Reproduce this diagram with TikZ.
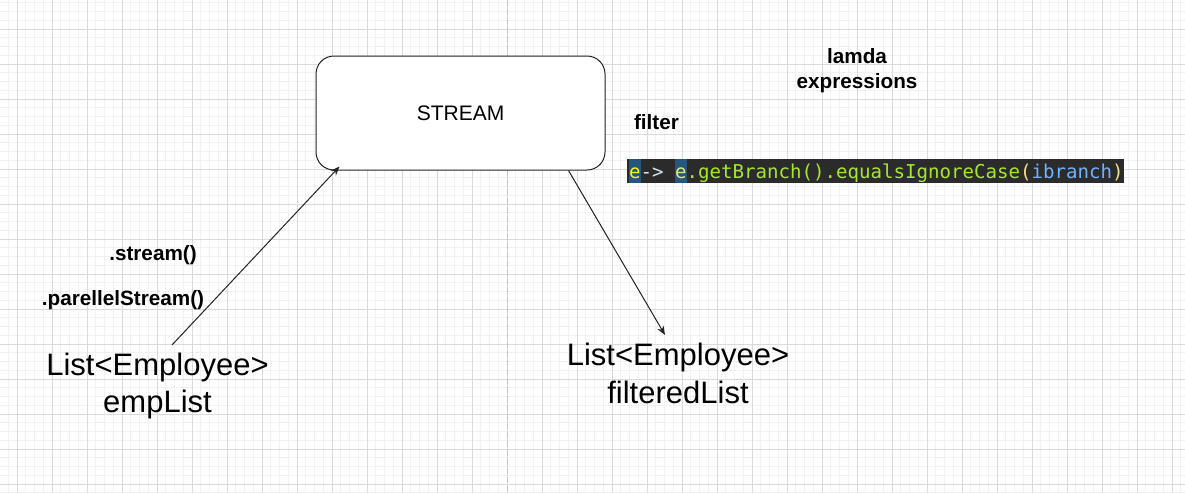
\documentclass[tikz,border=0pt]{standalone}
\usepackage{fontspec}
\setmainfont{Liberation Sans}
\newfontfamily\codefont{DejaVu Sans Mono}
\usetikzlibrary{arrows.meta}
\definecolor{gminor}{HTML}{F1F1F1}
\definecolor{gmajor}{HTML}{DADADA}
\definecolor{gdash}{HTML}{C4C4C4}
\definecolor{codebg}{HTML}{2B2B2B}
\definecolor{codehl}{HTML}{24567E}
\definecolor{cyel}{HTML}{FFEF1A}
\definecolor{cwht}{HTML}{D8E4F0}
\definecolor{cfun}{HTML}{E4E090}
\definecolor{cgrn}{HTML}{A6E62E}
\definecolor{cpar}{HTML}{F4E080}
\definecolor{cblu}{HTML}{6FB2FF}
\definecolor{linec}{HTML}{222222}
\newcommand{\hlbox}[2]{{\setlength{\fboxsep}{0pt}\colorbox{codehl}{\rule[-5pt]{0pt}{24pt}\textcolor{#1}{#2}}}}
\begin{document}
\begin{tikzpicture}[x=1pt,y=-1pt,
  minorline/.style={draw=gminor,line width=1pt},
  majorline/.style={draw=gmajor,line width=1pt},
  divider/.style={draw=gdash,line width=1pt,dash pattern=on 6pt off 3pt},
  streambox/.style={draw=linec,fill=white,line width=1pt,rounded corners=18pt,
    minimum width=289pt,minimum height=114pt,inner sep=0pt,
    font=\fontsize{21}{25}\selectfont},
  boldlabel/.style={inner sep=0pt,anchor=base,align=center,
    font=\bfseries\fontsize{20.7}{25}\selectfont},
  biglabel/.style={inner sep=0pt,anchor=base,align=center,
    font=\fontsize{31}{37.5}\selectfont},
  codeline/.style={fill=codebg,inner sep=0pt,anchor=base west,
    font=\codefont\fontsize{19.1}{24}\selectfont},
  arr/.style={draw=linec,line width=1pt,-{Stealth[length=9pt,width=7pt]}}
]
\useasboundingbox (0,0) rectangle (1185,493);
\fill[white] (0,0) rectangle (1185,493);
% grid
\foreach \i in {0,...,136} \draw[minorline] ({-0.5+8.75*\i},0) -- ++(0,493);
\foreach \i in {0,...,56} \draw[minorline] (0,{2.75+8.75*\i}) -- ++(1185,0);
\foreach \i in {0,...,33} \draw[majorline] ({17+35*\i},0) -- ++(0,493);
\foreach \i in {0,...,13} \draw[majorline] (0,{29+35*\i}) -- ++(1185,0);
\draw[divider] (507.5,0) -- (507.5,493);
% nodes
\node[streambox] (stream) at (460.5,113) {STREAM};
\node[boldlabel] (lamda) at (857,88) {lamda\\expressions};
\node[boldlabel] (filter) at (656.5,129.5) {filter};
\node[boldlabel] (stm) at (153,260.5) {.stream()};
\node[boldlabel] (pstm) at (123,305) {.parellelStream()};
\node[biglabel] (emp) at (157.5,412.7) {List<Employee>\\empList};
\node[biglabel] (filt) at (678,403) {List<Employee>\\filteredList};
\node[codeline] (code) at (627,178) {\hspace{2pt}\hlbox{cyel}{e}\textcolor{cwht}{->}\hphantom{e}\hlbox{cfun}{e}\textcolor{cgrn}{.getBranch().equalsIgnoreCase}\textcolor{cpar}{(}\textcolor{cblu}{ibranch}\textcolor{cpar}{)}\hspace{2.5pt}};
% connectors
\coordinate (empTop) at (172,345);
\coordinate (filtTop) at (665,335);
\draw[arr] (empTop) -- ([xshift=24pt,yshift=4pt]stream.south west);
\draw[arr] ([xshift=253pt]stream.south west) -- (filtTop);
\end{tikzpicture}
\end{document}
